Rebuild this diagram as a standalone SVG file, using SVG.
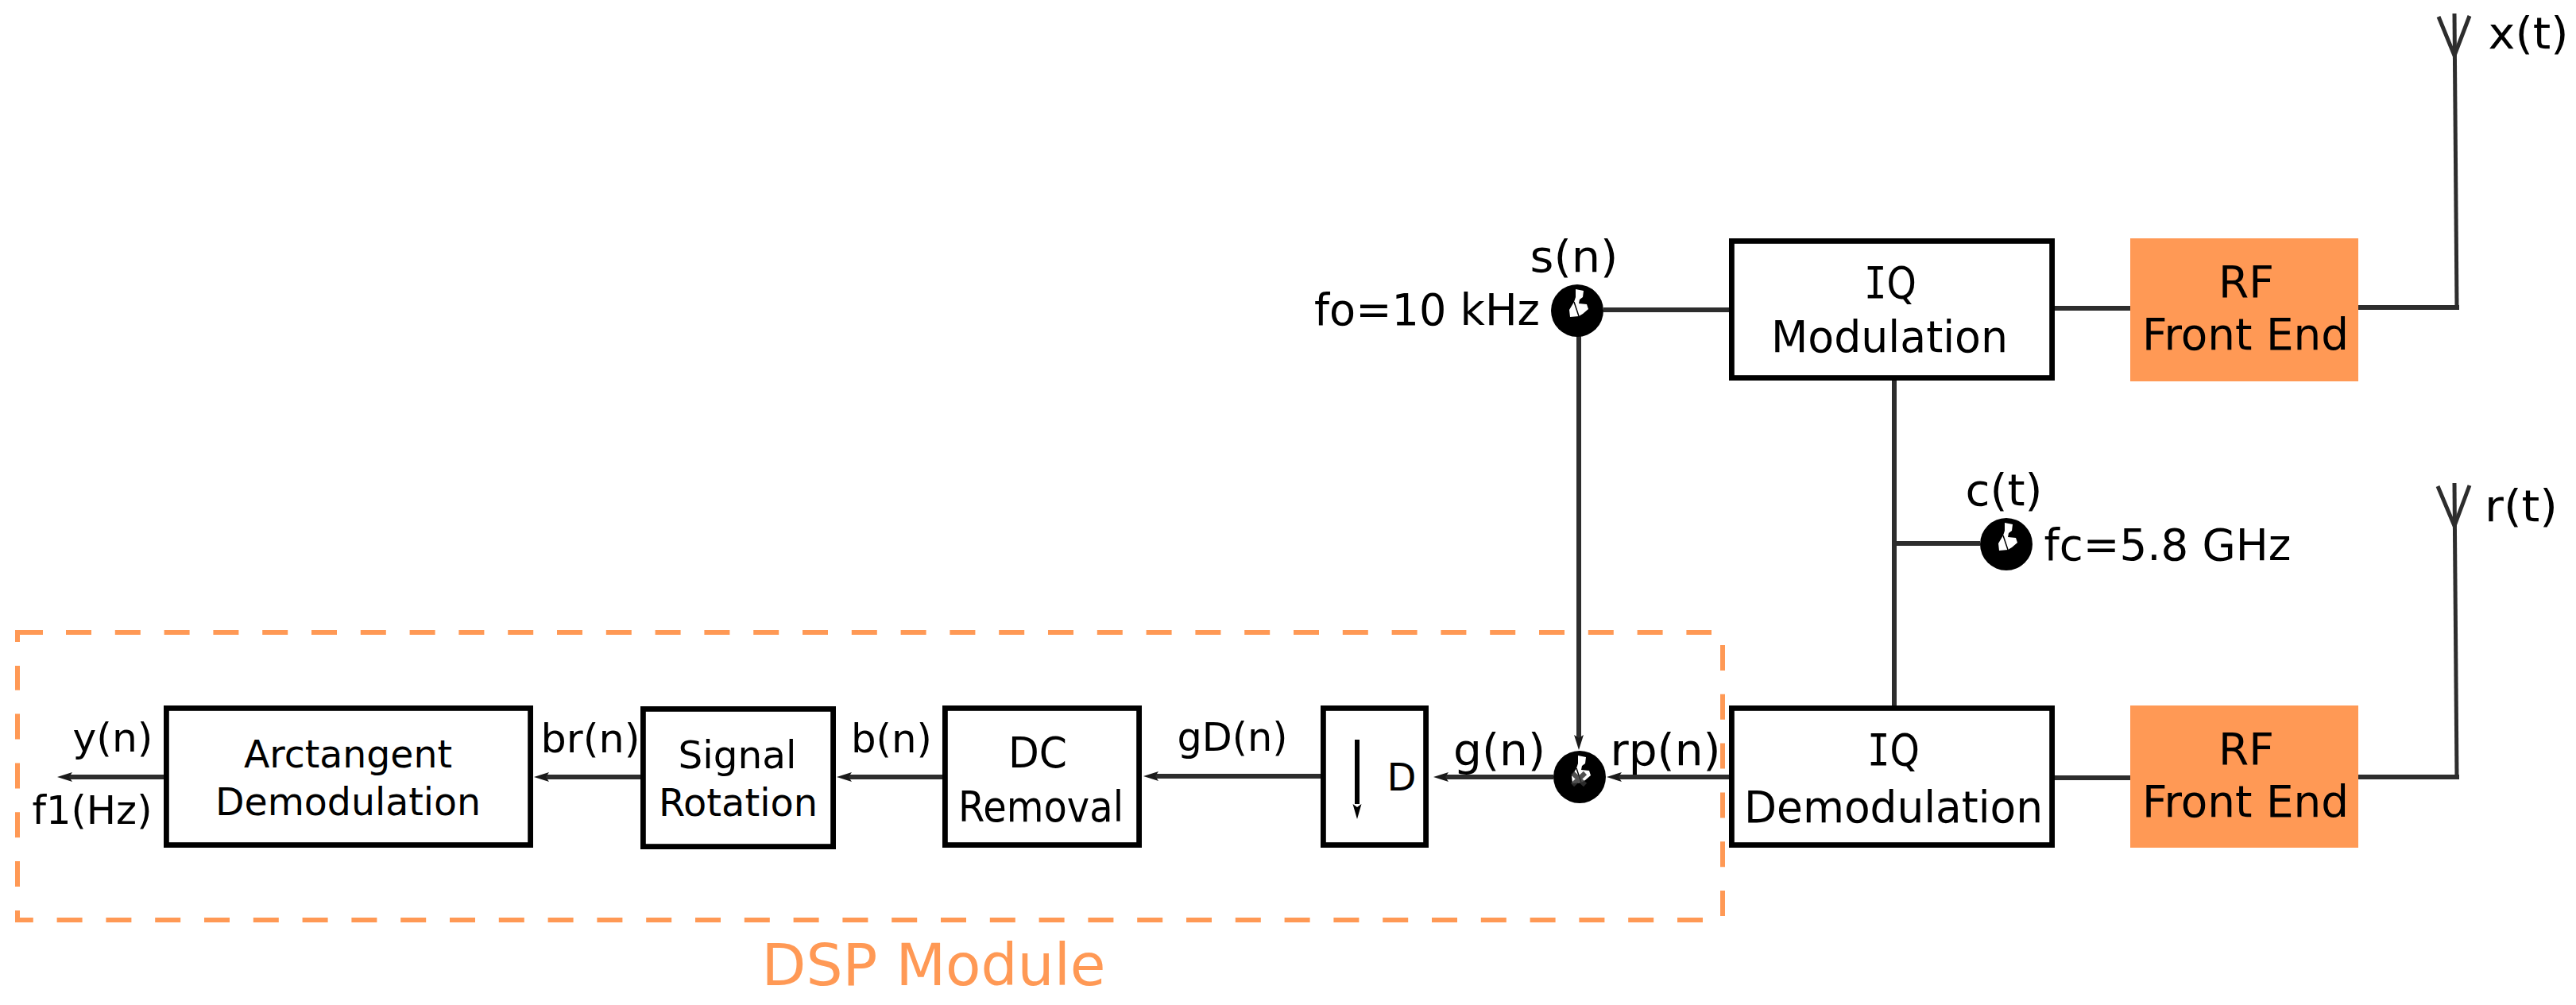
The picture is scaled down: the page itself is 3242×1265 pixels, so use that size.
<svg xmlns="http://www.w3.org/2000/svg" width="3242" height="1265" viewBox="0 0 3242 1265">
<style>
text{font-family:"DejaVu Sans",sans-serif;fill:#000;text-anchor:middle}
.l{font-size:55px}.m{font-size:50px}.s{font-size:48px}.t{font-size:53px}
.mono{font-family:"DejaVu Sans Mono",monospace}
.b{fill:#fff;stroke:#000;stroke-width:6.8}
.rf{fill:#f95}
.w{fill:none;stroke:#2d2d2d;stroke-width:6}
.n{fill:none;stroke:#2d2d2d;stroke-width:5}
.a{marker-end:url(#ah)}
.d{fill:none;stroke:#f95;stroke-width:6}
.dd{stroke-dasharray:32 29.8}
</style>
<defs>
<marker id="ah" markerUnits="userSpaceOnUse" markerWidth="19" markerHeight="14" viewBox="0 0 19 14" refX="9" refY="7" orient="auto"><path d="M19 7L0 1L4 7L0 13Z" fill="#1a1a1a"/></marker>
<g id="osc"><circle r="33"/><path d="M-2-27L8-25L7-17L3-14L2-9L12-8L14-2L7 4L2 7L-9 8L-10-1L-4-11L-2-17Z" fill="#fff"/><path d="M-4-11L2 7" stroke="#000" stroke-width="1.500"/></g>
</defs>
<g id="connectors">
<path class="w" d="M2018 390H2176"/>
<path class="w a" d="M1987 423V934"/>
<path class="w a" d="M2176 978H2032"/>
<path class="w a" d="M1955 978H1814"/>
<path class="w a" d="M1662 977H1449"/>
<path class="w a" d="M1186 978H1063"/>
<path class="w a" d="M806 978H682"/>
<path class="w a" d="M206 978H82"/>
<path class="w" d="M2586 388H2681"/>
<path class="w" d="M2586 979H2681"/>
<path class="w" d="M2384 479V888"/>
<path class="w" d="M2384 684H2492"/>
<path class="w" d="M2968 387H3095"/>
<path class="n" d="M3089 17L3092 387"/>
<path class="n" d="M3069 21L3089 70L3108 20"/>
<path class="w" d="M2968 978H3095"/>
<path class="n" d="M3089 608L3092 978"/>
<path class="n" d="M3068 612L3089 662L3108 611"/>
</g>
<g id="dsp-module">
<path class="d dd" d="M83 796H2154M2168 812V1153M2143 1158H41M22 1116V838"/>
<path class="d" d="M22 808V796H54M22 1146V1158H41"/>
<text x="1175" y="1240" font-size="73" textLength="433" lengthAdjust="spacingAndGlyphs" style="fill:#f95">DSP Module</text>
</g>
<g id="iq-mod"><rect class="b" x="2179.400" y="303.400" width="403.200" height="172.200"/><text class="l" x="2379" y="375" textLength="66" lengthAdjust="spacingAndGlyphs"><tspan class="mono">I</tspan>Q</text><text class="l" x="2378" y="443" textLength="298" lengthAdjust="spacingAndGlyphs">Modulation</text></g>
<g id="iq-demod"><rect class="b" x="2179.400" y="891.400" width="403.200" height="172.200"/><text class="l" x="2383" y="963" textLength="66" lengthAdjust="spacingAndGlyphs"><tspan class="mono">I</tspan>Q</text><text class="l" x="2383" y="1035" textLength="376" lengthAdjust="spacingAndGlyphs">Demodulation</text></g>
<g id="rf-tx"><rect class="rf" x="2681" y="300" width="287" height="180"/><text class="l" x="2827" y="374" textLength="70" lengthAdjust="spacingAndGlyphs">RF</text><text class="l" x="2826" y="440" textLength="260" lengthAdjust="spacingAndGlyphs">Front End</text></g>
<g id="rf-rx"><rect class="rf" x="2681" y="888" width="287" height="179"/><text class="l" x="2827" y="962" textLength="70" lengthAdjust="spacingAndGlyphs">RF</text><text class="l" x="2826" y="1028" textLength="260" lengthAdjust="spacingAndGlyphs">Front End</text></g>
<g id="arctan"><rect class="b" x="209.400" y="891.400" width="458.200" height="172.200"/><text class="s" x="438" y="966" textLength="262" lengthAdjust="spacingAndGlyphs">Arctangent</text><text class="s" x="438" y="1026" textLength="334" lengthAdjust="spacingAndGlyphs">Demodulation</text></g>
<g id="rotation"><rect class="b" x="809.400" y="892.400" width="239.200" height="173.200"/><text class="s" x="928" y="967" textLength="149" lengthAdjust="spacingAndGlyphs">Signal</text><text class="s" x="929" y="1027" textLength="200" lengthAdjust="spacingAndGlyphs">Rotation</text></g>
<g id="dc"><rect class="b" x="1189.400" y="891.400" width="244.200" height="172.200"/><text class="t" x="1306" y="966" textLength="74" lengthAdjust="spacingAndGlyphs">DC</text><text class="t" x="1310" y="1034" textLength="208" lengthAdjust="spacingAndGlyphs">Removal</text></g>
<g id="decim"><rect class="b" x="1665.400" y="891.400" width="129.200" height="172.200"/><path d="M1708 931V1012" stroke="#000" stroke-width="6"/><path d="M1702.500 1012L1708 1031L1713.500 1012L1708 1016Z"/><text class="s" x="1764" y="995">D</text></g>
<g id="osc-s"><use href="#osc" x="1985" y="391"/><text class="l" x="1981" y="342" textLength="111" lengthAdjust="spacingAndGlyphs">s(n)</text><text class="l" x="1796" y="409" textLength="284" lengthAdjust="spacingAndGlyphs">fo=10 kHz</text></g>
<g id="osc-c"><use href="#osc" x="2522" y="685" transform="translate(3 0)"/><text class="l" x="2522" y="636" textLength="97" lengthAdjust="spacingAndGlyphs">c(t)</text><text class="l" x="2728" y="705" textLength="311" lengthAdjust="spacingAndGlyphs">fc=5.8 GHz</text></g>
<g id="mixer"><use href="#osc" x="1988" y="978"/><path d="M1979 973L1995 988M1979 988L1995 973" stroke="#333" stroke-width="6" opacity=".85"/></g>
<g id="labels">
<text class="m" x="142" y="946" textLength="101" lengthAdjust="spacingAndGlyphs">y(n)</text>
<text class="m" x="116" y="1037" textLength="151" lengthAdjust="spacingAndGlyphs">f1(Hz)</text>
<text class="m" x="743" y="947" textLength="125" lengthAdjust="spacingAndGlyphs">br(n)</text>
<text class="m" x="1122" y="947" textLength="102" lengthAdjust="spacingAndGlyphs">b(n)</text>
<text class="m" x="1551" y="945" textLength="139" lengthAdjust="spacingAndGlyphs">gD(n)</text>
<text class="l" x="1887" y="963" textLength="116" lengthAdjust="spacingAndGlyphs">g(n)</text>
<text class="l" x="2096" y="963" textLength="139" lengthAdjust="spacingAndGlyphs">rp(n)</text>
<text class="l" x="3182" y="61" textLength="101" lengthAdjust="spacingAndGlyphs">x(t)</text>
<text class="l" x="3173" y="656" textLength="92" lengthAdjust="spacingAndGlyphs">r(t)</text>
</g>
</svg>
